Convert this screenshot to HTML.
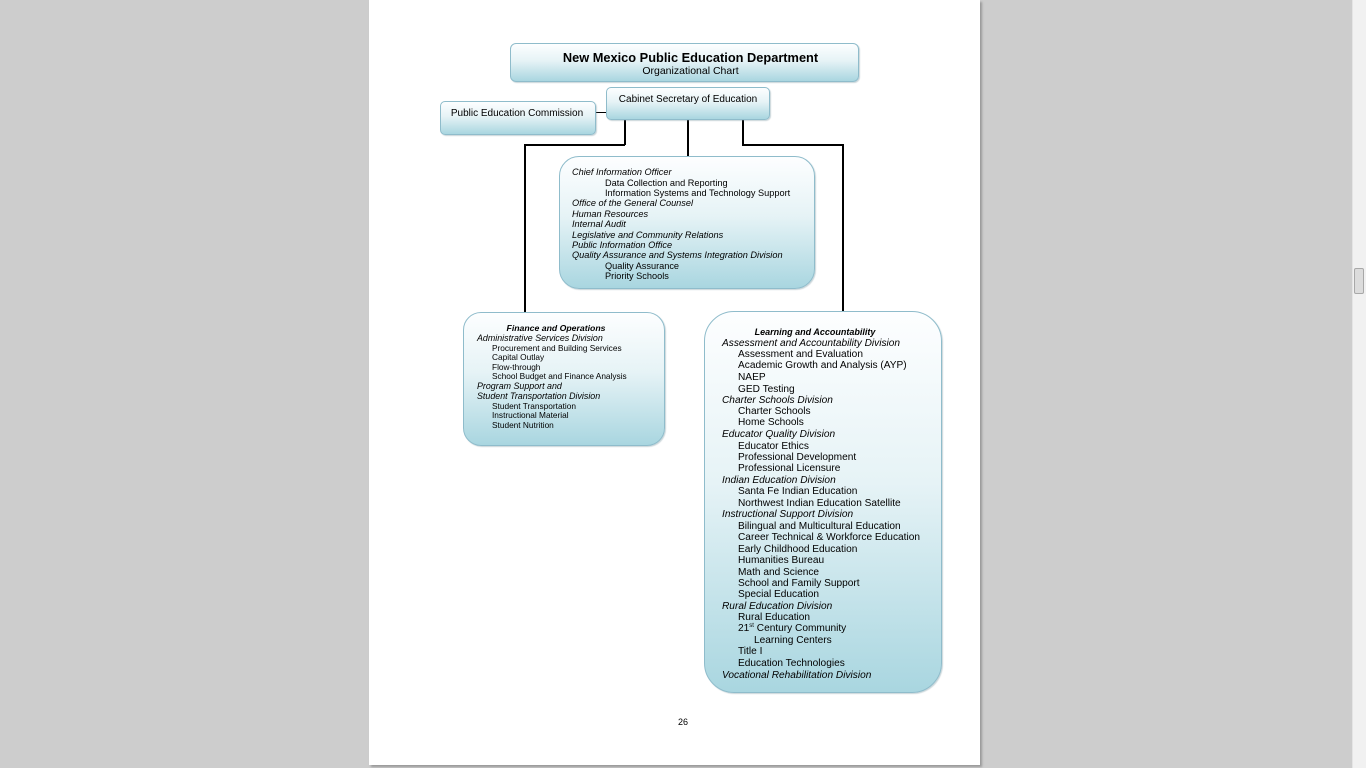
<!DOCTYPE html>
<html><head><meta charset="utf-8">
<style>
*{margin:0;padding:0;box-sizing:border-box}
html,body{width:1366px;height:768px;overflow:hidden;background:#cdcdcd;font-family:"Liberation Sans",Arial,sans-serif;color:#000}
#page{position:absolute;left:369px;top:0;width:611px;height:765px;background:#fff;box-shadow:2px 2px 2px #999}
#sb{position:absolute;left:1352px;top:0;width:14px;height:768px;background:#f1f1f1;border-left:1px solid #e4e4e4}
#thumb{position:absolute;left:1354px;top:268px;width:10px;height:26px;background:#dcdcdc;border:1px solid #a8a8a8;border-radius:2px}
.box{position:absolute;border:1px solid #8fbccb;background:linear-gradient(to bottom,#fdfeff 0%,#e6f3f6 45%,#a9d6e0 100%);box-shadow:1px 1px 1px rgba(120,150,160,.4)}
.ln{position:absolute;background:#000}
.t{position:absolute;white-space:nowrap}
.c1 .t{font-size:9.2px;line-height:10px;margin-top:1px}
.c2 .t{font-size:8.3px;line-height:9px;margin-top:1px}
.c3 .t{font-size:10.15px;line-height:11px;margin-top:2px}
.i{font-style:italic}
.b{font-weight:bold}
</style></head><body>
<div id="page"></div>
<div id="sb"></div><div id="thumb"></div>

<!-- connectors -->
<div class="ln" style="left:596px;top:112px;width:10px;height:1px"></div>
<div class="ln" style="left:624px;top:120px;width:1.5px;height:25px"></div>
<div class="ln" style="left:524px;top:144px;width:101px;height:1.5px"></div>
<div class="ln" style="left:524px;top:144px;width:1.5px;height:169px"></div>
<div class="ln" style="left:687px;top:120px;width:1.5px;height:37px"></div>
<div class="ln" style="left:742px;top:120px;width:1.5px;height:25px"></div>
<div class="ln" style="left:742px;top:144px;width:101px;height:1.5px"></div>
<div class="ln" style="left:842px;top:144px;width:1.5px;height:168px"></div>

<!-- title -->
<div class="box" style="left:510px;top:43px;width:349px;height:39px;border-radius:6px"></div>
<div class="t b" style="left:510px;width:361px;text-align:center;top:50px;font-size:12.8px;line-height:15px">New Mexico Public Education Department</div>
<div class="t" style="left:510px;width:361px;text-align:center;top:65px;font-size:10.5px;line-height:12px">Organizational Chart</div>

<!-- cabinet -->
<div class="box" style="left:606px;top:87px;width:164px;height:33px;border-radius:5px"></div>
<div class="t" style="left:606px;width:164px;text-align:center;top:94px;font-size:10px;line-height:12px">Cabinet Secretary of Education</div>

<!-- commission -->
<div class="box" style="left:440px;top:101px;width:156px;height:34px;border-radius:5px"></div>
<div class="t" style="left:440px;width:154px;text-align:center;top:108px;font-size:10px;line-height:12px">Public Education Commission</div>

<!-- center box -->
<div class="box" style="left:559px;top:156px;width:256px;height:133px;border-radius:20px"></div>
<div class="c1">
<div class="t i" style="left:572px;top:166px">Chief Information Officer</div>
<div class="t" style="left:605px;top:177px">Data Collection and Reporting</div>
<div class="t" style="left:605px;top:187px">Information Systems and Technology Support</div>
<div class="t i" style="left:572px;top:197px">Office of the General Counsel</div>
<div class="t i" style="left:572px;top:208px">Human Resources</div>
<div class="t i" style="left:572px;top:218px">Internal Audit</div>
<div class="t i" style="left:572px;top:229px">Legislative and Community Relations</div>
<div class="t i" style="left:572px;top:239px">Public Information Office</div>
<div class="t i" style="left:572px;top:249px">Quality Assurance and Systems Integration Division</div>
<div class="t" style="left:605px;top:260px">Quality Assurance</div>
<div class="t" style="left:605px;top:270px">Priority Schools</div>
</div>

<!-- finance box -->
<div class="box" style="left:463px;top:312px;width:202px;height:134px;border-radius:18px"></div>
<div class="c2">
<div class="t b i" style="left:463px;width:186px;text-align:center;top:323px;font-size:8.7px">Finance and Operations</div>
<div class="t i" style="left:477px;top:333px;font-size:8.9px">Administrative Services Division</div>
<div class="t" style="left:492px;top:343px">Procurement and Building Services</div>
<div class="t" style="left:492px;top:352px">Capital Outlay</div>
<div class="t" style="left:492px;top:362px">Flow-through</div>
<div class="t" style="left:492px;top:371px">School Budget and Finance Analysis</div>
<div class="t i" style="left:477px;top:381px;font-size:8.9px">Program Support and</div>
<div class="t i" style="left:477px;top:391px;font-size:8.9px">Student Transportation Division</div>
<div class="t" style="left:492px;top:401px">Student Transportation</div>
<div class="t" style="left:492px;top:410px">Instructional Material</div>
<div class="t" style="left:492px;top:420px">Student Nutrition</div>
</div>

<!-- learning box -->
<div class="box" style="left:704px;top:311px;width:238px;height:382px;border-radius:30px"></div>
<div class="c3">
<div class="t b i" style="left:704px;width:222px;text-align:center;top:325px;font-size:9px">Learning and Accountability</div>
<div class="t i" style="left:722px;top:336px">Assessment and Accountability Division</div>
<div class="t" style="left:738px;top:347px">Assessment and Evaluation</div>
<div class="t" style="left:738px;top:358px">Academic Growth and Analysis (AYP)</div>
<div class="t" style="left:738px;top:370px">NAEP</div>
<div class="t" style="left:738px;top:382px">GED Testing</div>
<div class="t i" style="left:722px;top:393px">Charter Schools Division</div>
<div class="t" style="left:738px;top:404px">Charter Schools</div>
<div class="t" style="left:738px;top:415px">Home Schools</div>
<div class="t i" style="left:722px;top:427px">Educator Quality Division</div>
<div class="t" style="left:738px;top:439px">Educator Ethics</div>
<div class="t" style="left:738px;top:450px">Professional Development</div>
<div class="t" style="left:738px;top:461px">Professional Licensure</div>
<div class="t i" style="left:722px;top:473px">Indian Education Division</div>
<div class="t" style="left:738px;top:484px">Santa Fe Indian Education</div>
<div class="t" style="left:738px;top:496px">Northwest Indian Education Satellite</div>
<div class="t i" style="left:722px;top:507px">Instructional Support Division</div>
<div class="t" style="left:738px;top:519px">Bilingual and Multicultural Education</div>
<div class="t" style="left:738px;top:530px">Career Technical &amp; Workforce Education</div>
<div class="t" style="left:738px;top:542px">Early Childhood Education</div>
<div class="t" style="left:738px;top:553px">Humanities Bureau</div>
<div class="t" style="left:738px;top:565px">Math and Science</div>
<div class="t" style="left:738px;top:576px">School and Family Support</div>
<div class="t" style="left:738px;top:587px">Special Education</div>
<div class="t i" style="left:722px;top:599px">Rural Education Division</div>
<div class="t" style="left:738px;top:610px">Rural Education</div>
<div class="t" style="left:738px;top:621px">21<span style="font-size:6px;position:relative;top:-4px">st</span> Century Community</div>
<div class="t" style="left:754px;top:633px">Learning Centers</div>
<div class="t" style="left:738px;top:644px">Title I</div>
<div class="t" style="left:738px;top:656px">Education Technologies</div>
<div class="t i" style="left:722px;top:668px">Vocational Rehabilitation Division</div>
</div>

<div class="t" style="left:678px;top:717px;font-size:9px;line-height:11px">26</div>
</body></html>
